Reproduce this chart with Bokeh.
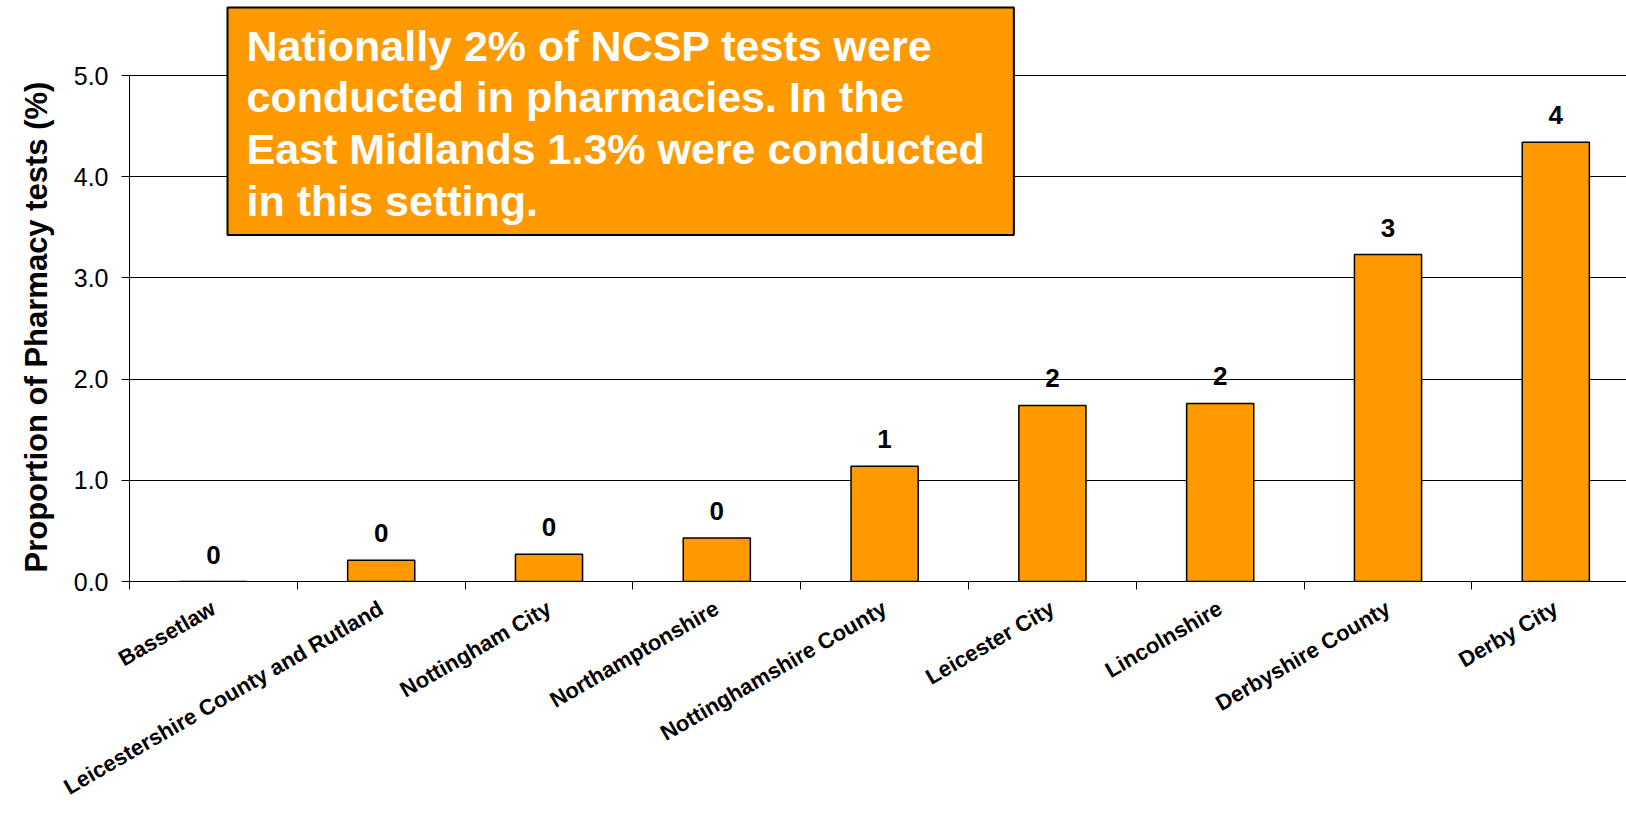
import math
from bokeh.plotting import figure
from bokeh.models import ColumnDataSource, FixedTicker, Label, Range1d, Title
from bokeh.core.properties import value
from bokeh.embed import file_html
from bokeh.resources import INLINE

# ---- data ----
categories = [
    "Bassetlaw",
    "Leicestershire County and Rutland",
    "Nottingham City",
    "Northamptonshire",
    "Nottinghamshire County",
    "Leicester City",
    "Lincolnshire",
    "Derbyshire County",
    "Derby City",
]
values = [0.0, 0.21, 0.27, 0.43, 1.14, 1.74, 1.76, 3.23, 4.34]
y_ticks = [0.0, 1.0, 2.0, 3.0, 4.0, 5.0]
y_title = "Proportion of Pharmacy tests (%)"
note_lines = [
    "Nationally  2% of NCSP tests were",
    "conducted in pharmacies. In the",
    "East Midlands 1.3% were conducted",
    "in this setting.",
]

FONT = "Liberation Sans"
ORANGE = "#FF9900"

idx = list(range(len(categories)))
labels = [f"{v:.0f}" for v in values]
src = ColumnDataSource(dict(x=idx, top=values, label=labels))

W, H = 1626, 814
left_b = 129
frame_h = 581
bottom_b = H - frame_h
frame_w = W - left_b
cat_px = 167.8
unit_px = 101.2
x_end = -0.5 + frame_w / cat_px
y_end = frame_h / unit_px

p = figure(
    width=W, height=H,
    x_range=Range1d(-0.5, x_end), y_range=Range1d(0, y_end),
    output_backend="svg", toolbar_location=None,
    min_border_left=left_b, min_border_top=0, min_border_right=0,
    min_border_bottom=bottom_b,
    background_fill_color="white", border_fill_color="white",
)
p.outline_line_color = None

# bars
p.vbar(x="x", top="top", width=0.4, source=src, fill_color=ORANGE,
       line_color="black", line_width=1.5)

# value labels
p.text(x="x", y="top", text="label", source=src, y_offset=-27,
       text_align="center", text_baseline="middle",
       text_font=value(FONT), text_font_style="bold",
       text_font_size="26px", text_color="black")

# x axis
xa = p.xaxis[0]
xa.ticker = FixedTicker(ticks=idx, minor_ticks=[i - 0.5 for i in idx] + [idx[-1] + 0.5])
xa.major_label_overrides = {i: c for i, c in zip(idx, categories)}
xa.major_tick_out = 0
xa.major_tick_in = 0
xa.minor_tick_out = 8
xa.minor_tick_in = 0
xa.minor_tick_line_color = "black"
xa.axis_line_color = "black"
xa.major_label_orientation = math.pi / 6
xa.major_label_text_font = FONT
xa.major_label_text_font_style = "bold"
xa.major_label_text_font_size = "22px"
xa.major_label_text_color = "black"
xa.major_label_standoff = 17

# y axis
ya = p.yaxis[0]
ya.ticker = FixedTicker(ticks=y_ticks)
ya.bounds = (y_ticks[0], y_ticks[-1])
ya.major_label_overrides = {t: f"{t:.1f}" for t in y_ticks}
ya.major_tick_out = 8
ya.major_tick_in = 0
ya.minor_tick_line_color = None
ya.axis_line_color = "black"
ya.major_tick_line_color = "black"
ya.major_label_text_font = FONT
ya.major_label_text_font_size = "25px"
ya.major_label_text_color = "black"
ya.major_label_standoff = 13

p.add_layout(Title(text=y_title, align="left", offset=9, standoff=33,
                   text_font=FONT, text_font_style="bold",
                   text_font_size="31px", text_color="black"), "left")

p.xgrid.grid_line_color = None
p.ygrid.ticker = FixedTicker(ticks=y_ticks)
p.ygrid.grid_line_color = "black"
p.ygrid.grid_line_width = 1

# note box
note = Label(
    x=-0.5 + (227 - left_b) / cat_px, y=(frame_h - 7) / unit_px,
    x_units="data", y_units="data",
    text="\n".join(note_lines), anchor="top_left",
    text_font=FONT, text_font_style="bold", text_font_size="43px",
    text_color="white", text_line_height=1.08,
    background_fill_color=ORANGE, border_line_color="black", border_line_width=2,
    padding=dict(left=19, right=29, top=14, bottom=10),
)
p.add_layout(note)

open("out.html", "w").write(file_html(p, INLINE))
